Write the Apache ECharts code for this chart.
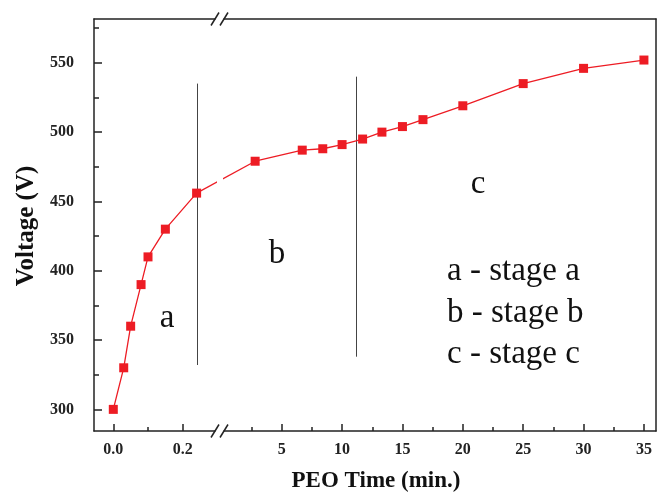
<!DOCTYPE html>
<html>
<head>
<meta charset="utf-8">
<script src="https://cdn.jsdelivr.net/npm/echarts@6/dist/echarts.min.js"></script>
<style>html,body{margin:0;padding:0;background:#fff}#c{width:667px;height:495px}</style>
</head>
<body>
<div id="c"></div>
<script>
// ---- data ----
var leftTime = [0, 0.03, 0.05, 0.08, 0.1, 0.15, 0.24];
var leftVoltage = [300, 330, 360, 390, 410, 430, 456];
var rightTime = [2.8, 6.7, 8.4, 10, 11.7, 13.3, 15, 16.7, 20, 25, 30, 35];
var rightVoltage = [479, 487, 488, 491, 495, 500, 504, 509, 519, 535, 546, 552];
var leftMajorTicks = [0, 0.2];
var leftMinorTicks = [0.1];
var rightMajorTicks = [5, 10, 15, 20, 25, 30, 35];
var rightMinorTicks = [2.5, 7.5, 12.5, 17.5, 22.5, 27.5, 32.5];
var yMajorTicks = [300, 350, 400, 450, 500, 550];
var yMinorTicks = [325, 375, 425, 475, 525, 575];
var stageABoundary = {time: 0.243, from: 332, to: 535};   // left part
var stageBBoundary = {time: 11.14, from: 338, to: 540};   // right part
var stageLabels = ['a', 'b', 'c'];
var legendLines = ['a - stage a', 'b - stage b', 'c - stage c'];
var xTitle = 'PEO Time (min.)';
var yTitle = 'Voltage (V)';

function pairs(xs, ys) { return xs.map(function (x, i) { return [x, ys[i]]; }); }

var FONT = '"Liberation Serif", "Times New Roman", serif';
var AX = '#222';
var RED = '#ED1C24';
var yMin = 284.4, yMax = 581.6;

var chart = echarts.init(document.getElementById('c'), null, {renderer: 'canvas'});

function xAx(grid, min, max, opts) {
  return Object.assign({
    type: 'value', gridIndex: grid, min: min, max: max, position: 'bottom',
    splitLine: {show: false},
    axisLine: {show: false, onZero: false, lineStyle: {color: AX, width: 1.5}},
    axisTick: {show: false},
    axisLabel: {show: false}
  }, opts);
}
function yAx(grid, opts) {
  return Object.assign({
    type: 'value', gridIndex: grid, min: yMin, max: yMax, position: 'left',
    splitLine: {show: false},
    axisLine: {show: false, onZero: false, lineStyle: {color: AX, width: 1.5}},
    axisTick: {show: false},
    axisLabel: {show: false}
  }, opts);
}
var labelStyle = {fontFamily: FONT, fontWeight: 'bold', fontSize: 16, color: AX};
var lineOn = {show: true, onZero: false, lineStyle: {color: AX, width: 1.5}};

var L_MIN = -0.0556, L_MAX = 0.293, R_MIN = 0.22, R_MAX = 36;

var option = {
  animation: false,
  backgroundColor: '#fff',
  grid: [
    {left: 94, top: 19, width: 121, bottom: 64},
    {left: 224, top: 19, right: 11, bottom: 64}
  ],
  xAxis: [
    // 0: left bottom major
    xAx(0, L_MIN, L_MAX, {
      axisLine: lineOn,
      axisTick: {show: true, inside: true, length: 7, lineStyle: {color: AX, width: 1.5}, customValues: leftMajorTicks},
      axisLabel: Object.assign({show: true, margin: 11, customValues: leftMajorTicks,
        formatter: function (v) { return v.toFixed(1); }}, labelStyle)
    }),
    // 1: left bottom minor
    xAx(0, L_MIN, L_MAX, {
      axisTick: {show: true, inside: true, length: 4, lineStyle: {color: AX, width: 1.5}, customValues: leftMinorTicks}
    }),
    // 2: left top frame
    xAx(0, L_MIN, L_MAX, {position: 'top', axisLine: lineOn}),
    // 3: right bottom major
    xAx(1, R_MIN, R_MAX, {
      axisLine: lineOn,
      axisTick: {show: true, inside: true, length: 7, lineStyle: {color: AX, width: 1.5}, customValues: rightMajorTicks},
      axisLabel: Object.assign({show: true, margin: 11, customValues: rightMajorTicks}, labelStyle)
    }),
    // 4: right bottom minor
    xAx(1, R_MIN, R_MAX, {
      axisTick: {show: true, inside: true, length: 4, lineStyle: {color: AX, width: 1.5}, customValues: rightMinorTicks}
    }),
    // 5: right top frame
    xAx(1, R_MIN, R_MAX, {position: 'top', axisLine: lineOn})
  ],
  yAxis: [
    // 0: left major
    yAx(0, {
      axisLine: lineOn,
      axisTick: {show: true, inside: true, length: 8, lineStyle: {color: AX, width: 1.5}, customValues: yMajorTicks},
      axisLabel: Object.assign({show: true, margin: 20, customValues: yMajorTicks}, labelStyle)
    }),
    // 1: left minor
    yAx(0, {
      axisTick: {show: true, inside: true, length: 5, lineStyle: {color: AX, width: 1.5}, customValues: yMinorTicks}
    }),
    // 2: right frame
    yAx(1, {position: 'right', axisLine: lineOn})
  ],
  series: [
    {
      type: 'line', xAxisIndex: 0, yAxisIndex: 0, data: pairs(leftTime, leftVoltage),
      symbol: 'rect', symbolSize: 9, itemStyle: {color: RED},
      lineStyle: {color: RED, width: 1.3}, z: 5,
      markLine: {
        silent: true, symbol: 'none', label: {show: false},
        lineStyle: {color: '#444', width: 1, type: 'solid'},
        data: [[{coord: [stageABoundary.time, stageABoundary.from]}, {coord: [stageABoundary.time, stageABoundary.to]}]]
      }
    },
    {
      type: 'line', xAxisIndex: 3, yAxisIndex: 2, data: pairs(rightTime, rightVoltage),
      symbol: 'rect', symbolSize: 9, itemStyle: {color: RED},
      lineStyle: {color: RED, width: 1.3}, z: 5,
      markLine: {
        silent: true, symbol: 'none', label: {show: false},
        lineStyle: {color: '#444', width: 1, type: 'solid'},
        data: [[{coord: [stageBBoundary.time, stageBBoundary.from]}, {coord: [stageBBoundary.time, stageBBoundary.to]}]]
      }
    }
  ]
};
chart.setOption(option);

// connecting segment across the axis break, mapped through the library's scales
var lastL = [leftTime[leftTime.length - 1], leftVoltage[leftVoltage.length - 1]];
var firstR = [rightTime[0], rightVoltage[0]];
var firstRinL = chart.convertFromPixel({xAxisIndex: 0}, chart.convertToPixel({xAxisIndex: 3}, firstR[0]));
var lastLinR = chart.convertFromPixel({xAxisIndex: 3}, chart.convertToPixel({xAxisIndex: 0}, lastL[0]));

// break marks positions
var bY = chart.convertToPixel({yAxisIndex: 0}, yMin);
var tY = chart.convertToPixel({yAxisIndex: 0}, yMax);
var gapL = chart.convertToPixel({xAxisIndex: 0}, L_MAX);
var gapR = chart.convertToPixel({xAxisIndex: 3}, R_MIN);
function slashes(y) {
  return [gapL, gapR].map(function (cx) {
    return {type: 'line', shape: {x1: cx - 4, y1: y + 6.5, x2: cx + 4, y2: y - 6.5},
      style: {stroke: AX, lineWidth: 1.5}, z: 10};
  });
}
var txt = function (x, y, s, size, weight, extra) {
  return Object.assign({type: 'text', x: x, y: y, z: 10,
    style: {text: s, fill: '#111', font: (weight || 'normal') + ' ' + size + 'px ' + FONT,
      align: 'center', verticalAlign: 'middle'}}, extra || {});
};
var graphics = [].concat(slashes(bY), slashes(tY), [
  txt(376, 481, xTitle, 23, 'bold'),
  txt(27, 226, yTitle, 25, 'bold', {rotation: Math.PI / 2}),
  txt(167, 318, stageLabels[0], 33),
  txt(277, 254, stageLabels[1], 33),
  txt(478, 184, stageLabels[2], 33),
  txt(447, 271, legendLines[0], 33),
  txt(447, 313, legendLines[1], 33),
  txt(447, 354, legendLines[2], 33)
]);
graphics.slice(-3).forEach(function (g) { g.style.align = 'left'; });

chart.setOption({
  series: [
    {},
    {},
    {type: 'line', xAxisIndex: 0, yAxisIndex: 0, data: [lastL, [firstRinL, firstR[1]]],
      symbol: 'none', lineStyle: {color: RED, width: 1.3}, clip: true, z: 4},
    {type: 'line', xAxisIndex: 3, yAxisIndex: 2, data: [[lastLinR, lastL[1]], firstR],
      symbol: 'none', lineStyle: {color: RED, width: 1.3}, clip: true, z: 4}
  ],
  graphic: graphics
});
</script>
</body>
</html>
